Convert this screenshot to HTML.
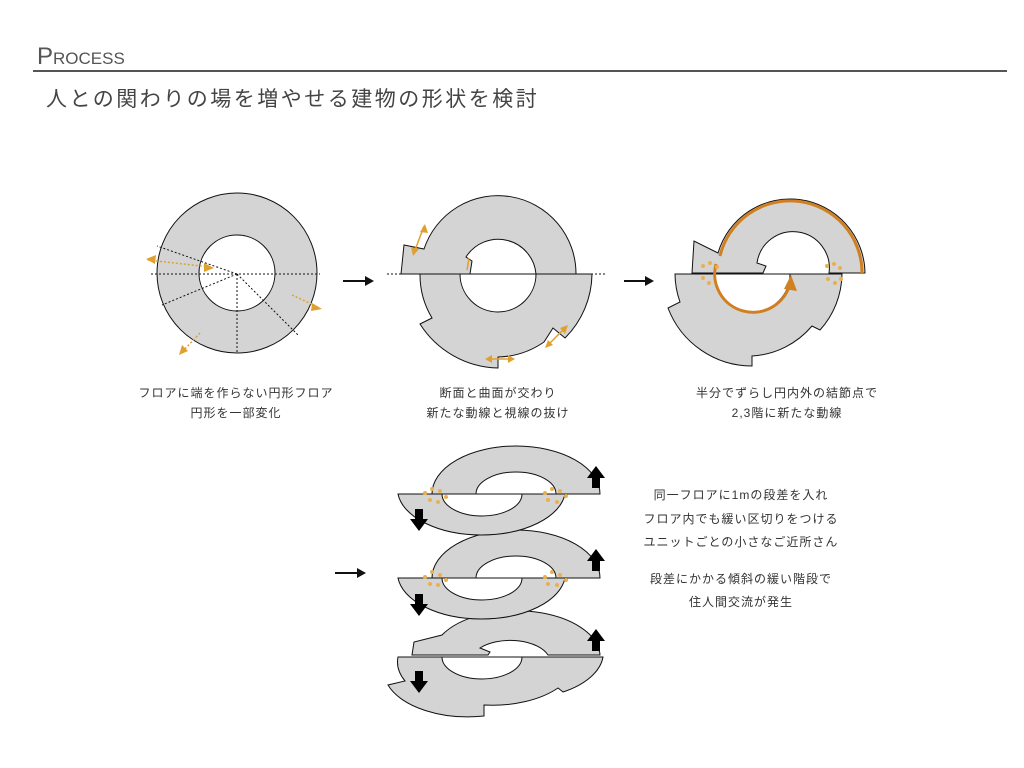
<!DOCTYPE html>
<html><head><meta charset="utf-8"><style>
body{margin:0;width:1024px;height:768px;background:#fff;overflow:hidden;font-family:"Liberation Sans","Noto Sans CJK JP",sans-serif;}
svg{position:absolute;left:0;top:0}
</style></head><body>
<svg width="1024" height="768" viewBox="0 0 1024 768" font-family="Liberation Sans, Noto Sans CJK JP, sans-serif">
<text x="37" y="64" font-size="24" fill="#555">P<tspan font-size="17">ROCESS</tspan></text>
<line x1="33" y1="71" x2="1007" y2="71" stroke="#555" stroke-width="2"/>
<text x="46" y="106" font-size="21" fill="#444" letter-spacing="2.5">人との関わりの場を増やせる建物の形状を検討</text>

<!-- diagram 1 -->
<path d="M157,273 a80,80 0 1,0 160,0 a80,80 0 1,0 -160,0 Z M199,273 a38,38 0 1,1 76,0 a38,38 0 1,1 -76,0 Z" fill="#d4d4d4" stroke="#111" fill-rule="evenodd"/>
<g stroke="#111" stroke-dasharray="2,2" stroke-width="1">
<line x1="151" y1="274" x2="320" y2="274"/>
<line x1="237" y1="274" x2="237" y2="352"/>
<line x1="237" y1="274" x2="157" y2="246"/>
<line x1="237" y1="274" x2="162" y2="305"/>
<line x1="237" y1="274" x2="298" y2="335"/>
</g>
<g stroke="#e0a030" stroke-width="1.5" stroke-dasharray="2,2" fill="#e0a030">
<line x1="148" y1="260" x2="210" y2="267"/><line x1="292" y1="295" x2="318" y2="307"/><line x1="200" y1="333" x2="182" y2="352"/>
</g>
<g fill="#e0a030"><polygon points="146,259 156,255 155,264"/><polygon points="214,268 204,263 204,272"/><polygon points="322,309 312,303 311,311"/><polygon points="179,355 182,345 188,351"/></g>

<path d="M343,281 h24" stroke="#111" stroke-width="2"/><polygon points="374,281 365,276 365,286" fill="#111"/>

<!-- diagram 2 -->
<path d="M420,274 L592,274 A92,92 0 0,1 565,338 L553,328 L544,342 A84,84 0 0,1 498,357 L498,368 A95,95 0 0,1 420,324 L432,318 A84,84 0 0,1 420,274 Z M460,274 A38,38 0 0,0 536,274 Z" fill="#d4d4d4" stroke="#111"/>
<path d="M401,274 L404,245 L424,249 A78,78 0 0,1 576,274 L536,274 A38,38 0 0,0 466,257 L472,261 L470,274 Z" fill="#d4d4d4" stroke="#111"/>
<line x1="387" y1="274" x2="606" y2="274" stroke="#111" stroke-dasharray="2,2"/>
<g stroke="#e0a030" stroke-width="1.5"><line x1="414" y1="253" x2="424" y2="226"/><line x1="488" y1="359" x2="512" y2="359"/><line x1="548" y1="345" x2="566" y2="327"/><line x1="467" y1="270" x2="469" y2="258"/></g>
<g fill="#e0a030"><polygon points="425,224 420,232 428,233"/><polygon points="413,256 411,247 419,249"/><polygon points="485,359 492,355 492,363"/><polygon points="515,359 508,355 508,363"/><polygon points="568,325 560,328 565,334"/><polygon points="545,348 548,340 553,345"/></g>

<path d="M624,281 h22" stroke="#111" stroke-width="2"/><polygon points="654,281 645,276 645,286" fill="#111"/>

<!-- diagram 3 -->
<path d="M675,274 L842,274 A85,85 0 0,1 820,330 L812,326 A85,85 0 0,1 752,356 L752,366 A90,90 0 0,1 668,308 L680,302 A85,85 0 0,1 675,274 Z M714,274 A38,38 0 0,0 790,274 Z" fill="#d4d4d4" stroke="#111"/>
<path d="M692,273 L694,241 L718,253 A75,75 0 0,1 865,273 L829,273 A36,36 0 0,0 757,263 L766,266 L763,273 Z" fill="#d4d4d4" stroke="#111"/>
<path d="M720,256 A72,72 0 0,1 862,273" fill="none" stroke="#d08020" stroke-width="3"/>
<path d="M716,264 A38,38 0 0,0 790,284" fill="none" stroke="#d08020" stroke-width="3"/>
<polygon points="791,275 797,291 784,289" fill="#d08020"/>
<g fill="#e8b050"><circle cx="703" cy="266" r="2"/><circle cx="710" cy="263" r="2"/><circle cx="717" cy="267" r="2"/><circle cx="703" cy="278" r="2"/><circle cx="709" cy="283" r="2"/><circle cx="827" cy="266" r="2"/><circle cx="834" cy="264" r="2"/><circle cx="840" cy="268" r="2"/><circle cx="828" cy="279" r="2"/><circle cx="835" cy="283" r="2"/><circle cx="841" cy="279" r="2"/></g>

<g font-size="12" fill="#333" text-anchor="middle" letter-spacing="1">
<text x="236" y="397">フロアに端を作らない円形フロア</text><text x="236" y="417">円形を一部変化</text>
<text x="498" y="397">断面と曲面が交わり</text><text x="498" y="417">新たな動線と視線の抜け</text>
<text x="787" y="397">半分でずらし円内外の結節点で</text><text x="787" y="417">2,3階に新たな動線</text>
<text x="741" y="499">同一フロアに1mの段差を入れ</text><text x="741" y="523">フロア内でも緩い区切りをつける</text><text x="741" y="546">ユニットごとの小さなご近所さん</text>
<text x="741" y="583">段差にかかる傾斜の緩い階段で</text><text x="741" y="606">住人間交流が発生</text>
</g>

<path d="M335,573 h22" stroke="#111" stroke-width="2"/><polygon points="366,573 357,568 357,578" fill="#111"/>

<!-- stacked layers -->
<g stroke="#111" fill="#d4d4d4">
<path d="M412,655 L414,642 L442,635 A84,46 0 0,1 600,655 L548,655 A40,22 0 0,0 480,648 L490,652 L488,655 Z"/>
<path d="M398,657 L603,657 A84,46 0 0,1 563,692 L558,688 A84,46 0 0,1 484,705 L484,716 A84,46 0 0,1 388,685 L405,681 A84,46 0 0,1 398,657 Z M442,657 A40,22 0 0,0 522,657 Z"/>
</g>
<g stroke="#111" fill="#d4d4d4">
<path d="M432,578 A84,48 0 0,1 600,578 L556,578 A40,22 0 0,0 476,578 Z"/>
<path d="M398,578 L565,578 A84,46 0 0,1 398,578 Z M442,578 A40,22 0 0,0 522,578 Z"/>
<path d="M432,494 A84,48 0 0,1 600,494 L556,494 A40,22 0 0,0 476,494 Z"/>
<path d="M398,494 L565,494 A84,46 0 0,1 398,494 Z M442,494 A40,22 0 0,0 522,494 Z"/>
</g>
<g fill="#e8b050">
<circle cx="425" cy="493" r="2"/><circle cx="432" cy="489" r="2"/><circle cx="440" cy="491" r="2"/><circle cx="446" cy="497" r="2"/><circle cx="430" cy="500" r="2"/><circle cx="438" cy="502" r="2"/>
<circle cx="545" cy="493" r="2"/><circle cx="552" cy="489" r="2"/><circle cx="560" cy="491" r="2"/><circle cx="566" cy="496" r="2"/><circle cx="548" cy="500" r="2"/><circle cx="557" cy="502" r="2"/>
<circle cx="425" cy="577" r="2"/><circle cx="432" cy="572" r="2"/><circle cx="440" cy="575" r="2"/><circle cx="446" cy="580" r="2"/><circle cx="430" cy="584" r="2"/><circle cx="438" cy="585" r="2"/>
<circle cx="545" cy="577" r="2"/><circle cx="552" cy="572" r="2"/><circle cx="560" cy="575" r="2"/><circle cx="566" cy="580" r="2"/><circle cx="548" cy="584" r="2"/><circle cx="557" cy="585" r="2"/>
</g>
<g fill="#000">
<polygon points="592,488 592,478 587,478 596,466 605,478 600,478 600,488"/>
<polygon points="592,571 592,561 587,561 596,549 605,561 600,561 600,571"/>
<polygon points="592,651 592,641 587,641 596,629 605,641 600,641 600,651"/>
<polygon points="415,509 415,519 410,519 419,531 428,519 423,519 423,509"/>
<polygon points="415,594 415,604 410,604 419,616 428,604 423,604 423,594"/>
<polygon points="415,671 415,681 410,681 419,693 428,681 423,681 423,671"/>
</g>
</svg>
</body></html>
